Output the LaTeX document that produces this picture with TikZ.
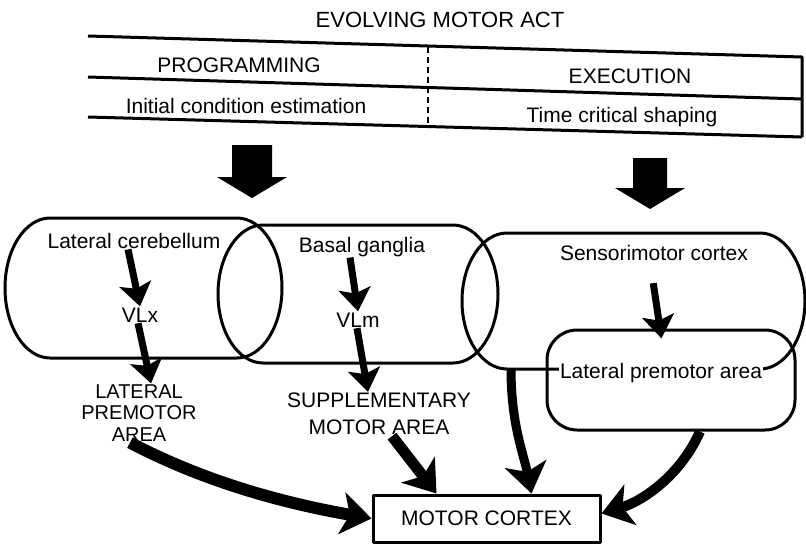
\documentclass[tikz,border=0pt]{standalone}
\usepackage{fontspec}
\setmainfont{Liberation Sans}
\usetikzlibrary{arrows.meta}

\begin{document}
\begin{tikzpicture}[x=1pt,y=-1pt,font=\fontsize{21}{23}\selectfont,
  outline/.style={line width=3pt,line join=round},
  lbl/.style={inner sep=1pt,anchor=base},
  smallarrow/.style={line width=7pt,-{Stealth[length=23pt,width=32pt,inset=5pt]}},
  bigarrow/.style={line width=11pt,-{Stealth[length=30pt,width=42pt,inset=8pt]}}]
  \useasboundingbox (0,0) rectangle (806,549);

  \node[lbl,font=\fontsize{22}{24}\selectfont] (title) at (440,27) {EVOLVING MOTOR ACT};
  \draw[outline] (88,36)--(802,57)--(802,137);
  \draw[outline] (88,77)--(802,99);
  \draw[outline] (88,117)--(802,137);
  \draw[line width=2.4pt,dash pattern=on 6pt off 4pt] (428,47)--(428,127);
  \node[lbl] (prog) at (239,72) {PROGRAMMING};
  \node[lbl] (exec) at (630,83) {EXECUTION};
  \node[lbl] (ice) at (246,113) {Initial condition estimation};
  \node[lbl] (tcs) at (622,122) {Time critical shaping};

  \foreach \cx/\w/\ya/\yb in {252/20/145/177,650/17/158/188}
    \fill (\cx-\w,\ya)--(\cx+\w,\ya)--(\cx+\w,\yb)--(\cx+35,\yb)--(\cx,\yb+21)
      --(\cx-35,\yb)--(\cx-\w,\yb)--cycle;

  \foreach \xa/\xb/\ya/\yb in {50/237/218/358,263/453/225/363,507/760/233/369}{
    \pgfmathsetmacro{\ym}{(\ya+\yb)/2}
    \pgfmathsetmacro{\kk}{0.2761*(\yb-\ya)}
    \draw[outline] (\xa,\ya)--(\xb,\ya)
      .. controls (\xb+24.9,\ya) and (\xb+45,\ym-\kk) .. (\xb+45,\ym)
      .. controls (\xb+45,\ym+\kk) and (\xb+24.9,\yb) .. (\xb,\yb)
      --(\xa,\yb)
      .. controls (\xa-24.9,\yb) and (\xa-45,\ym+\kk) .. (\xa-45,\ym)
      .. controls (\xa-45,\ym-\kk) and (\xa-24.9,\ya) .. (\xa,\ya)--cycle;
  }

  \node[outline,draw,rounded corners=30pt,minimum width=248pt,
    minimum height=100pt] (lpabox) at (671,380) {};
  \node[lbl] (latcb) at (134,248) {Lateral cerebellum};
  \node[lbl] (vlx) at (140,322) {VLx};
  \node[lbl] (basal) at (362,252) {Basal ganglia};
  \node[lbl] (vlm) at (358,327) {VLm};
  \node[lbl] (smc) at (654,260) {Sensorimotor cortex};
  \node[lbl,fill=white] (lpm) at (661,378) {Lateral premotor area};
  \node[align=center,inner sep=1pt,font=\fontsize{20}{21.5}\selectfont]
    (lpa) at (139,413) {LATERAL\\PREMOTOR\\AREA};
  \node[align=center,inner sep=1pt,font=\fontsize{21}{27}\selectfont]
    (sma) at (379,414) {SUPPLEMENTARY\\MOTOR AREA};
  \node[outline,draw,minimum width=227pt,minimum height=47pt]
    (motor) at (486.5,518.5) {MOTOR CORTEX};
  \coordinate (smcfoot) at (511,369);

  \draw[smallarrow] ([xshift=-6pt]latcb.south)--(vlx.north);
  \draw[smallarrow] ([xshift=-2pt]vlx.south)--([xshift=12pt]lpa.north);
  \draw[smallarrow] ([xshift=-12pt]basal.south)--(vlm.north);
  \draw[smallarrow] ([xshift=-1pt]vlm.south)--([xshift=-11pt]sma.north);
  \draw[smallarrow,shorten <=22pt,shorten >=-10pt]
    ([xshift=-4pt]smc.south)--([xshift=-11pt]lpabox.north);

  \draw[bigarrow,line width=12pt] ([xshift=-9pt]lpa.south)
    .. controls +(80,42) and +(-80,-14) .. (motor.west);
  \draw[bigarrow] ([xshift=13pt]sma.south)--([xshift=-50pt]motor.north);
  \draw[bigarrow,line width=9pt] (smcfoot)
    .. controls +(0,55) and +(-8,-40) .. ([xshift=45pt]motor.north);
  \draw[bigarrow,line width=10pt] ([xshift=29pt]lpabox.south)
    .. controls +(-20,45) and +(40,-12) .. ([yshift=5pt]motor.east);
\end{tikzpicture}
\end{document}
